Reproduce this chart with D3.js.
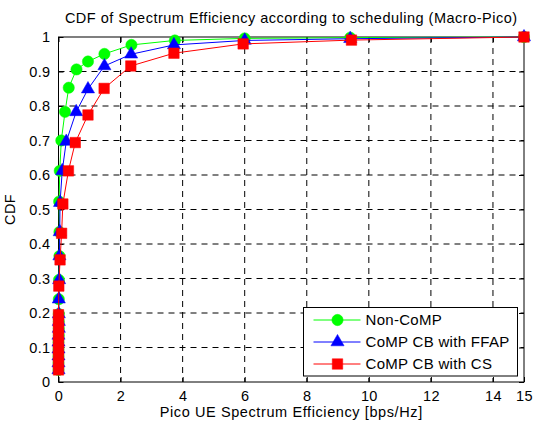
<!DOCTYPE html>
<html>
<head>
<meta charset="utf-8">
<script src="https://cdn.jsdelivr.net/npm/d3@7"></script>
<style>
  body { margin: 0; background: #fff; }
  text { font-family: "Liberation Sans", Arial, Helvetica, sans-serif; fill: #000; }
</style>
</head>
<body>
<div id="chart"></div>
<script>
// data
var seriesNames = ['Non-CoMP', 'CoMP CB with FFAP', 'CoMP CB with CS'];

var nonCompX = [0.0, 0.0, 0.0, 0.0, 0.0, 0.01, 0.01, 0.01, 0.01, 0.01, 0.015, 0.03, 0.03, 0.02, 0.04, 0.09, 0.21, 0.33, 0.58, 0.95, 1.48, 2.35, 3.75, 6.0, 9.4, 15];
var nonCompY = [0.035, 0.055, 0.075, 0.095, 0.115, 0.135, 0.155, 0.175, 0.197, 0.24, 0.296, 0.365, 0.435, 0.523, 0.612, 0.70, 0.783, 0.853, 0.906, 0.929, 0.951, 0.977, 0.99, 0.996, 0.998, 1.0];

var ffapX = [0.0, 0.0, 0.0, 0.0, 0.0, 0.0, 0.01, 0.01, 0.01, 0.01, 0.02, 0.03, 0.04, 0.05, 0.12, 0.25, 0.57, 0.95, 1.48, 2.34, 3.72, 6.0, 9.4, 15];
var ffapY = [0.035, 0.055, 0.075, 0.095, 0.115, 0.135, 0.155, 0.175, 0.197, 0.24, 0.296, 0.365, 0.435, 0.52, 0.612, 0.697, 0.783, 0.849, 0.916, 0.95, 0.977, 0.99, 0.995, 1.0];

var csX = [0.0, 0.0, 0.0, 0.0, 0.0, 0.0, 0.0, 0.0, 0.0, 0.01, 0.05, 0.10, 0.14, 0.32, 0.54, 0.95, 1.47, 2.33, 3.72, 5.95, 9.44, 15];
var csY = [0.035, 0.055, 0.075, 0.095, 0.115, 0.135, 0.155, 0.175, 0.195, 0.278, 0.354, 0.431, 0.516, 0.612, 0.694, 0.774, 0.851, 0.916, 0.953, 0.98, 0.991, 1.0];

var xTicks = [0, 2, 4, 6, 8, 10, 12, 14, 15];
var yTicks = [0, 0.1, 0.2, 0.3, 0.4, 0.5, 0.6, 0.7, 0.8, 0.9, 1];

(function() {
	'use strict';

	var WIDTH = 533;
	var HEIGHT = 426;
	var margin = { top: 37, right: 9, bottom: 44, left: 58.5 };
	var w = WIDTH - margin.left - margin.right;
	var h = HEIGHT - margin.top - margin.bottom;
	var TICK = 5;
	var FONT = '14.5px';
	var SPACING = '0.35px';

	var series = [
		{ name: seriesNames[0], xs: nonCompX, ys: nonCompY, color: '#00ff00', marker: 'circle' },
		{ name: seriesNames[1], xs: ffapX, ys: ffapY, color: '#0000ff', marker: 'triangle' },
		{ name: seriesNames[2], xs: csX, ys: csY, color: '#ff0000', marker: 'square' }
	];

	var x = d3.scaleLinear().domain([0, 15]).range([0, w]);
	var y = d3.scaleLinear().domain([0, 1]).range([h, 0]);

	var svg = d3.select('#chart').append('svg')
		.attr('width', WIDTH)
		.attr('height', HEIGHT);

	var g = svg.append('g')
		.attr('transform', 'translate(' + margin.left + ',' + margin.top + ')');

	// grid
	var grid = g.append('g').attr('class', 'grid');
	grid.selectAll('line.gx')
		.data(xTicks.filter(function(d) { return d > 0 && d < 15; }))
		.enter().append('line')
		.attr('x1', function(d) { return x(d); })
		.attr('x2', function(d) { return x(d); })
		.attr('y1', 0).attr('y2', h)
		.attr('stroke', '#000').attr('stroke-width', 1)
		.attr('stroke-dasharray', '6,5');
	grid.selectAll('line.gy')
		.data(yTicks.filter(function(d) { return d > 0 && d < 1; }))
		.enter().append('line')
		.attr('y1', function(d) { return y(d); })
		.attr('y2', function(d) { return y(d); })
		.attr('x1', 0).attr('x2', w)
		.attr('stroke', '#000').attr('stroke-width', 1)
		.attr('stroke-dasharray', '6,5');

	// axes, ticks pointing in, mirrored on top and right
	var axisBottom = d3.axisBottom(x).tickValues(xTicks).tickSizeInner(-TICK).tickSizeOuter(0).tickPadding(9);
	var axisTop = d3.axisTop(x).tickValues(xTicks).tickSizeInner(-TICK).tickSizeOuter(0).tickFormat('');
	var axisLeft = d3.axisLeft(y).tickValues(yTicks).tickSizeInner(-TICK).tickSizeOuter(0).tickPadding(8).tickFormat(d3.format('~g'));
	var axisRight = d3.axisRight(y).tickValues(yTicks).tickSizeInner(-TICK).tickSizeOuter(0).tickFormat('');

	function styleAxis(sel) {
		sel.select('.domain').remove();
		sel.selectAll('line').attr('stroke', '#000');
		sel.selectAll('text').attr('font-size', FONT).attr('fill', '#000')
			.attr('letter-spacing', SPACING)
			.attr('font-family', '"Liberation Sans", Arial, sans-serif');
	}

	g.append('g').attr('transform', 'translate(0,' + h + ')').call(axisBottom).call(styleAxis);
	g.append('g').call(axisTop).call(styleAxis);
	g.append('g').call(axisLeft).call(styleAxis);
	g.append('g').attr('transform', 'translate(' + w + ',0)').call(axisRight).call(styleAxis);

	g.append('rect')
		.attr('x', 0).attr('y', 0).attr('width', w).attr('height', h)
		.attr('fill', 'none').attr('stroke', '#000').attr('stroke-width', 1);

	// series
	var line = d3.line()
		.x(function(d) { return x(d[0]); })
		.y(function(d) { return y(d[1]); });

	var symbols = {
		circle: d3.symbol().type(d3.symbolCircle).size(100),
		triangle: d3.symbol().type(d3.symbolTriangle).size(75),
		square: d3.symbol().type(d3.symbolSquare).size(110)
	};

	series.forEach(function(s) {
		var pts = d3.zip(s.xs, s.ys);
		var sg = g.append('g');
		sg.append('path')
			.datum(pts)
			.attr('d', line)
			.attr('fill', 'none')
			.attr('stroke', s.color)
			.attr('stroke-width', 1);
		sg.selectAll('path.m')
			.data(pts)
			.enter().append('path')
			.attr('class', 'm')
			.attr('transform', function(d) { return 'translate(' + x(d[0]) + ',' + y(d[1]) + ')'; })
			.attr('d', symbols[s.marker])
			.attr('fill', s.color)
			.attr('stroke', s.color)
			.attr('stroke-width', 0.5);
	});

	// legend
	var lg = svg.append('g').attr('transform', 'translate(303.5,307.5)');
	lg.append('rect')
		.attr('width', 214).attr('height', 68.5)
		.attr('fill', '#fff').attr('stroke', '#000').attr('stroke-width', 1);
	series.forEach(function(s, i) {
		var row = lg.append('g').attr('transform', 'translate(0,' + (12.5 + i * 22) + ')');
		row.append('line')
			.attr('x1', 10).attr('x2', 57)
			.attr('stroke', s.color).attr('stroke-width', 1);
		row.append('path')
			.attr('transform', 'translate(34,0)')
			.attr('d', symbols[s.marker])
			.attr('fill', s.color).attr('stroke', s.color).attr('stroke-width', 0.5);
		row.append('text')
			.attr('x', 62).attr('dy', '0.35em')
			.attr('font-size', '15px')
			.attr('letter-spacing', '0.3px')
			.text(s.name);
	});

	// title and labels
	svg.append('text')
		.attr('x', margin.left + w / 2).attr('y', 23)
		.attr('text-anchor', 'middle')
		.attr('font-size', FONT)
		.attr('letter-spacing', '0.5px')
		.text('CDF of Spectrum Efficiency according to scheduling (Macro-Pico)');

	svg.append('text')
		.attr('x', margin.left + w / 2).attr('y', 417)
		.attr('text-anchor', 'middle')
		.attr('font-size', FONT)
		.attr('letter-spacing', '0.6px')
		.text('Pico UE Spectrum Efficiency [bps/Hz]');

	svg.append('text')
		.attr('transform', 'translate(15,' + (margin.top + h / 2) + ') rotate(-90)')
		.attr('text-anchor', 'middle')
		.attr('font-size', FONT)
		.attr('letter-spacing', SPACING)
		.text('CDF');
}());
</script>
</body>
</html>
